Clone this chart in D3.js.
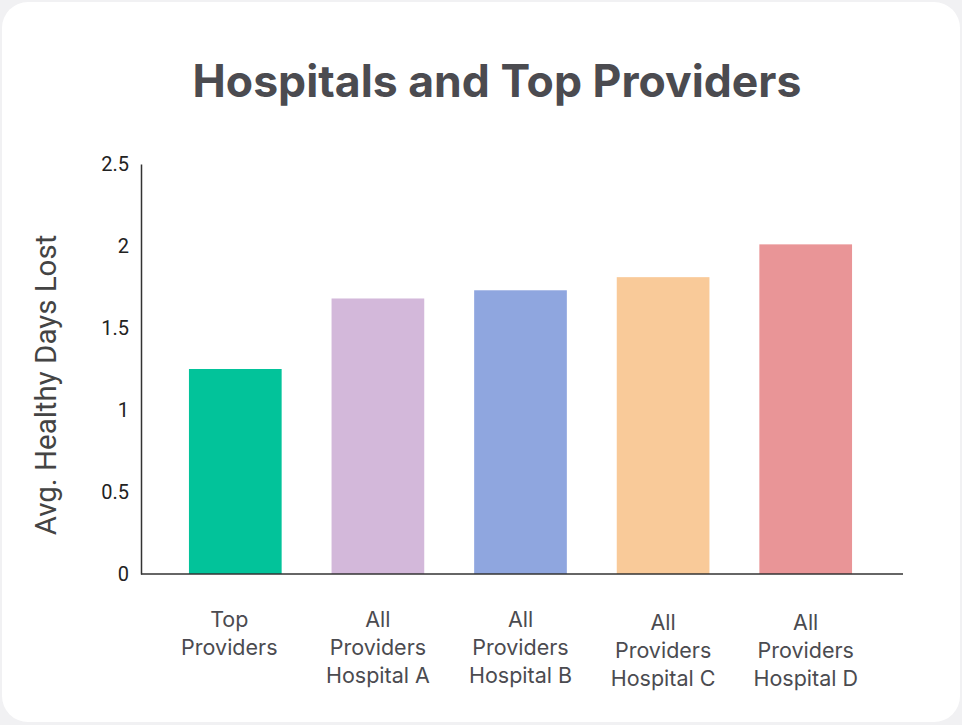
<!DOCTYPE html>
<html><head><meta charset="utf-8">
<script src="https://cdn.jsdelivr.net/npm/d3@7"></script>
<style>
html,body{margin:0;padding:0;background:#f1f1f3;}
svg{display:block;}
</style></head>
<body>
<svg id="chart" width="962" height="725"></svg>
<script>
const title = "Hospitals and Top Providers";
const yAxisTitle = "Avg. Healthy Days Lost";
const categories = [
  ["Top", "Providers"],
  ["All", "Providers", "Hospital A"],
  ["All", "Providers", "Hospital B"],
  ["All", "Providers", "Hospital C"],
  ["All", "Providers", "Hospital D"]
];
const values = [1.25, 1.68, 1.73, 1.81, 2.01];
const colors = ["#02c39a", "#d3b8da", "#8fa6df", "#f9ca99", "#e99597"];
const yTicks = [0, 0.5, 1, 1.5, 2, 2.5];

const svg = d3.select("#chart");
svg.append("rect").attr("x", 2).attr("y", 2).attr("width", 958).attr("height", 720)
  .attr("rx", 26).attr("fill", "#ffffff");

const t = svg.append("text").attr("x", 497).attr("y", 97).attr("text-anchor", "middle")
  .attr("font-family", "Inter, 'Noto Sans', sans-serif").attr("font-weight", 700)
  .attr("font-size", 46).attr("fill", "#4b4b50").text(title);
const tw = t.node().getComputedTextLength();
if (tw > 0) t.attr("font-size", 46 * 609 / tw);

const y = d3.scaleLinear().domain([0, 2.5]).range([574, 164]);
const keys = categories.map((c, i) => i);
const x = d3.scaleBand().domain(keys).range([164, 877]).paddingInner(0.35).paddingOuter(0.175);

svg.append("g").selectAll("rect").data(values).join("rect")
  .attr("x", (d, i) => x(i)).attr("width", x.bandwidth())
  .attr("y", d => y(d)).attr("height", d => y(0) - y(d))
  .attr("fill", (d, i) => colors[i]);

// y axis
const yAxis = svg.append("g").attr("transform", "translate(141,0)")
  .call(d3.axisLeft(y).tickValues(yTicks).tickSize(0).tickPadding(12).tickFormat(d3.format("")));
yAxis.select(".domain").attr("stroke", "#333").attr("stroke-width", 1.5);
yAxis.selectAll("text").attr("font-family", "Roboto, sans-serif").attr("font-size", 20).attr("fill", "#222");

// x axis line
svg.append("line").attr("x1", 141).attr("x2", 903).attr("y1", y(0)).attr("y2", y(0))
  .attr("stroke", "#333").attr("stroke-width", 1.5);

// x labels
const xl = svg.append("g").selectAll("text").data(categories).join("text")
  .attr("text-anchor", "middle")
  .attr("font-family", "Inter, 'Noto Sans', sans-serif").attr("font-size", 21.5).attr("fill", "#4b4b50")
  .attr("transform", (d, i) => `translate(${x(i) + x.bandwidth() / 2 - (i === 0 ? 6 : 0)},${i >= 3 ? 630 : 627})`);
xl.selectAll("tspan").data(d => d).join("tspan")
  .attr("x", 0).attr("dy", (d, j) => j === 0 ? 0 : 28).text(d => d);

// y title
svg.append("text").attr("transform", "translate(56,385) rotate(-90)").attr("text-anchor", "middle")
  .attr("font-family", "Roboto, sans-serif").attr("font-weight", 400).attr("font-size", 29.5).attr("fill", "#444")
  .text(yAxisTitle);
</script>
</body></html>
